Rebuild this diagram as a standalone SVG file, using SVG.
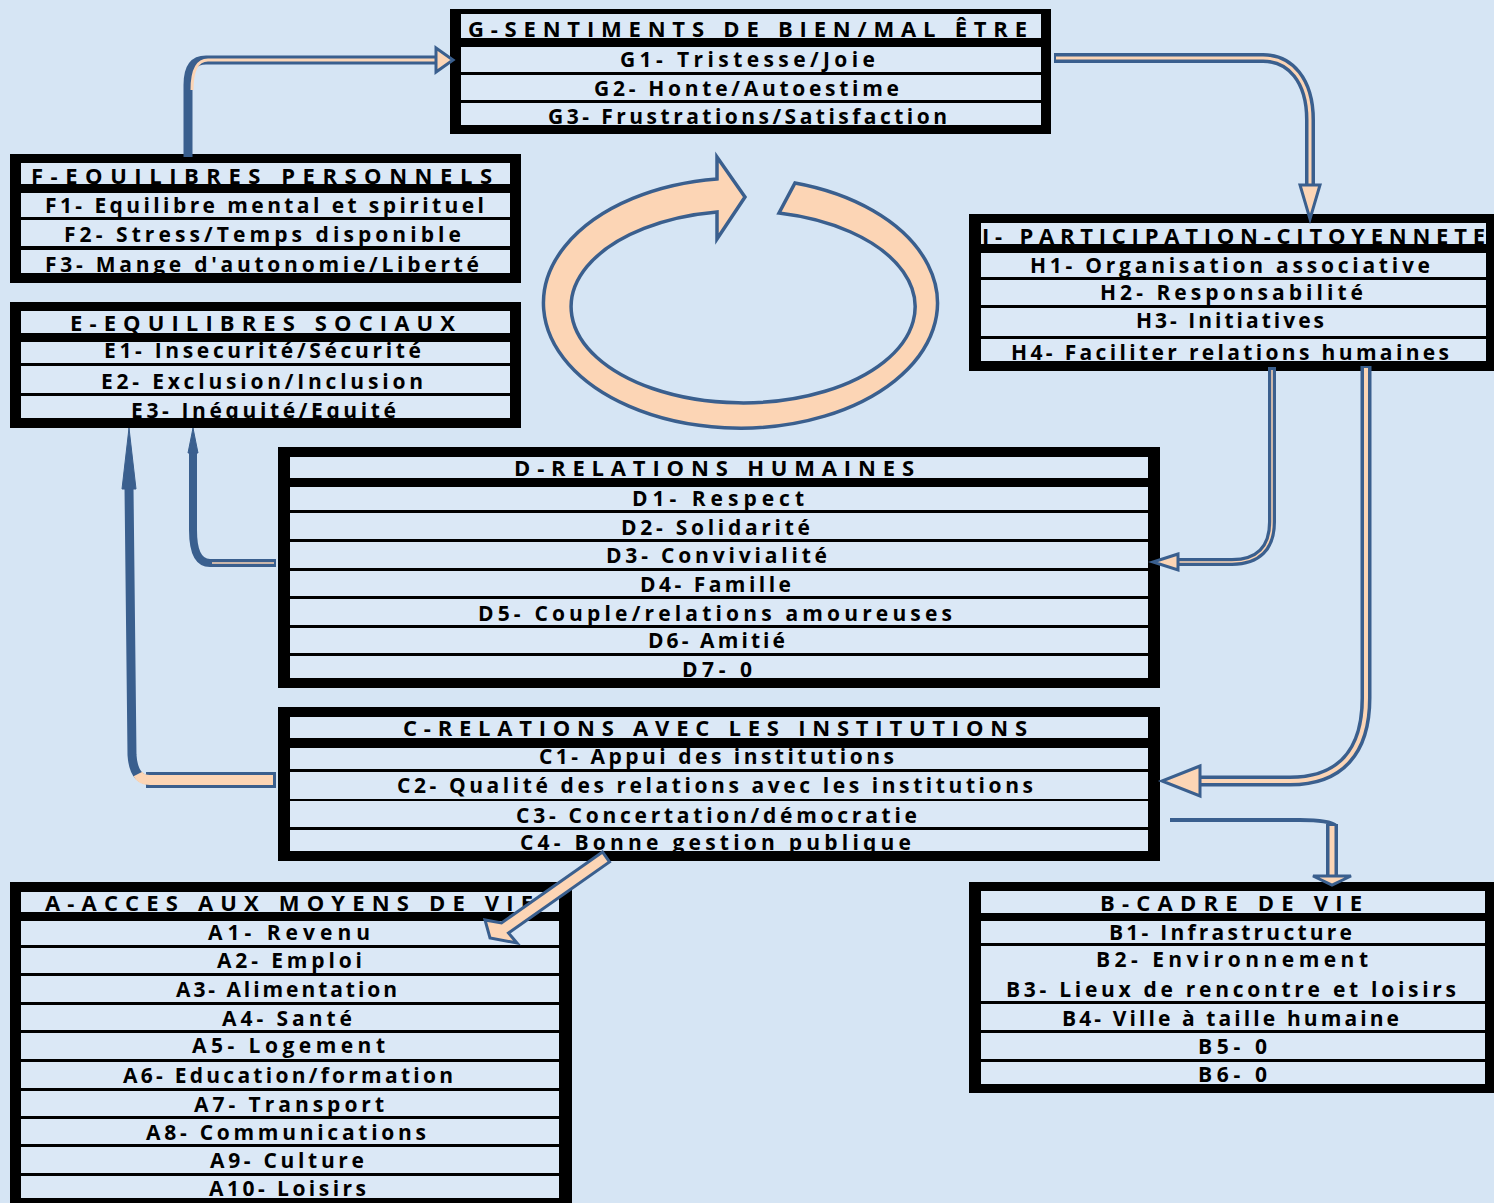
<svg xmlns="http://www.w3.org/2000/svg" width="1494" height="1203" viewBox="0 0 1494 1203">
<style>
.frame{fill:#000}
.row{fill:#dbe8f6}
.t{font-family:"Open Sans","Liberation Sans",sans-serif;font-weight:700;font-size:21px;fill:#000}
.tt{font-size:22px}
.cb{fill:none;stroke:#3a5f8e;stroke-linejoin:round}
.cp{fill:none;stroke:#fcd5b5}
.head{fill:#fcd5b5;stroke:#3a5f8e;stroke-width:3;stroke-linejoin:miter}
.bhead{fill:#3a5f8e;stroke:#3a5f8e;stroke-width:1}
</style>
<rect x="0" y="0" width="1494" height="1203" fill="#d6e5f4"/>

<g id="cycle">
<path d="M795,183 A197,125 0 1 1 717,179 L717,157 L745,197 L717,239 L717,212 A172,96 0 1 0 779,213 Z" fill="#fcd5b5" stroke="#3a5f8e" stroke-width="3.5" stroke-linejoin="miter"/>
</g>

<g id="nodeG">
<rect class="frame" x="450" y="9" width="601" height="125"/>
<rect class="row" x="461" y="14" width="580" height="24"/>
<rect class="row" x="461" y="47" width="580" height="25"/>
<rect class="row" x="461" y="75" width="580" height="25"/>
<rect class="row" x="461" y="103" width="580" height="22"/>
<text class="t tt" x="468" y="37" textLength="559" lengthAdjust="spacing">G-SENTIMENTS DE BIEN/MAL ÊTRE</text>
<text class="t" x="620" y="67" textLength="255" lengthAdjust="spacing">G1- Tristesse/Joie</text>
<text class="t" x="594" y="96" textLength="305" lengthAdjust="spacing">G2- Honte/Autoestime</text>
<text class="t" x="548" y="124" textLength="399" lengthAdjust="spacing">G3- Frustrations/Satisfaction</text>
</g>

<g id="nodeF">
<rect class="frame" x="10" y="154" width="511" height="129"/>
<rect class="row" x="21" y="163" width="489" height="21"/>
<rect class="row" x="21" y="193" width="489" height="24"/>
<rect class="row" x="21" y="220" width="489" height="26"/>
<rect class="row" x="21" y="250" width="489" height="23"/>
<text class="t tt" x="31" y="184" textLength="461" lengthAdjust="spacing">F-EQUILIBRES PERSONNELS</text>
<text class="t" x="45" y="213" textLength="439" lengthAdjust="spacing">F1- Equilibre mental et spirituel</text>
<text class="t" x="64" y="242" textLength="397" lengthAdjust="spacing">F2- Stress/Temps disponible</text>
<text class="t" x="45" y="272" textLength="434" lengthAdjust="spacing">F3- Mange d'autonomie/Liberté</text>
</g>

<g id="nodeE">
<rect class="frame" x="10" y="302" width="511" height="126"/>
<rect class="row" x="21" y="311" width="489" height="22"/>
<rect class="row" x="21" y="342" width="489" height="21"/>
<rect class="row" x="21" y="366" width="489" height="27"/>
<rect class="row" x="21" y="396" width="489" height="22"/>
<text class="t tt" x="70" y="331" textLength="385" lengthAdjust="spacing">E-EQUILIBRES SOCIAUX</text>
<text class="t" x="104" y="358" textLength="317" lengthAdjust="spacing">E1- Insecurité/Sécurité</text>
<text class="t" x="101" y="389" textLength="322" lengthAdjust="spacing">E2- Exclusion/Inclusion</text>
<text class="t" x="131" y="418" textLength="265" lengthAdjust="spacing">E3- Inéquité/Equité</text>
</g>

<g id="nodeH">
<rect class="frame" x="969" y="214" width="530" height="157"/>
<rect class="row" x="981" y="223" width="505" height="21"/>
<rect class="row" x="981" y="253" width="505" height="24"/>
<rect class="row" x="981" y="280" width="505" height="25"/>
<rect class="row" x="981" y="308" width="505" height="28"/>
<rect class="row" x="981" y="339" width="505" height="22"/>
<text class="t tt" x="982" y="244" textLength="503" lengthAdjust="spacing">I- PARTICIPATION-CITOYENNETE</text>
<text class="t" x="1030" y="273" textLength="400" lengthAdjust="spacing">H1- Organisation associative</text>
<text class="t" x="1100" y="300" textLength="263" lengthAdjust="spacing">H2- Responsabilité</text>
<text class="t" x="1136" y="328" textLength="188" lengthAdjust="spacing">H3- Initiatives</text>
<text class="t" x="1011" y="360" textLength="438" lengthAdjust="spacing">H4- Faciliter relations humaines</text>
</g>

<g id="nodeD">
<rect class="frame" x="278" y="447" width="882" height="241"/>
<rect class="row" x="290" y="457" width="858" height="21"/>
<rect class="row" x="290" y="487" width="858" height="23"/>
<rect class="row" x="290" y="513" width="858" height="26"/>
<rect class="row" x="290" y="542" width="858" height="26"/>
<rect class="row" x="290" y="571" width="858" height="25"/>
<rect class="row" x="290" y="599" width="858" height="26"/>
<rect class="row" x="290" y="628" width="858" height="25"/>
<rect class="row" x="290" y="656" width="858" height="22"/>
<text class="t tt" x="514" y="476" textLength="400" lengthAdjust="spacing">D-RELATIONS HUMAINES</text>
<text class="t" x="632" y="506" textLength="172" lengthAdjust="spacing">D1- Respect</text>
<text class="t" x="621" y="535" textLength="189" lengthAdjust="spacing">D2- Solidarité</text>
<text class="t" x="606" y="563" textLength="221" lengthAdjust="spacing">D3- Convivialité</text>
<text class="t" x="640" y="592" textLength="151" lengthAdjust="spacing">D4- Famille</text>
<text class="t" x="478" y="621" textLength="474" lengthAdjust="spacing">D5- Couple/relations amoureuses</text>
<text class="t" x="648" y="648" textLength="137" lengthAdjust="spacing">D6- Amitié</text>
<text class="t" x="682" y="677" textLength="70" lengthAdjust="spacing">D7- 0</text>
</g>

<g id="nodeC">
<rect class="frame" x="278" y="707" width="882" height="154"/>
<rect class="row" x="290" y="717" width="858" height="21"/>
<rect class="row" x="290" y="748" width="858" height="21"/>
<rect class="row" x="290" y="772" width="858" height="27"/>
<rect class="row" x="290" y="801" width="858" height="26"/>
<rect class="row" x="290" y="830" width="858" height="21"/>
<text class="t tt" x="403" y="736" textLength="624" lengthAdjust="spacing">C-RELATIONS AVEC LES INSTITUTIONS</text>
<text class="t" x="539" y="764" textLength="355" lengthAdjust="spacing">C1- Appui des institutions</text>
<text class="t" x="397" y="793" textLength="636" lengthAdjust="spacing">C2- Qualité des relations avec les institutions</text>
<text class="t" x="516" y="823" textLength="401" lengthAdjust="spacing">C3- Concertation/démocratie</text>
<text class="t" x="520" y="850" textLength="391" lengthAdjust="spacing">C4- Bonne gestion publique</text>
</g>

<g id="nodeA">
<rect class="frame" x="10" y="882" width="562" height="330"/>
<rect class="row" x="21" y="892" width="538" height="20"/>
<rect class="row" x="21" y="921" width="538" height="24"/>
<rect class="row" x="21" y="948" width="538" height="25"/>
<rect class="row" x="21" y="976" width="538" height="26"/>
<rect class="row" x="21" y="1005" width="538" height="25"/>
<rect class="row" x="21" y="1033" width="538" height="26"/>
<rect class="row" x="21" y="1062" width="538" height="26"/>
<rect class="row" x="21" y="1091" width="538" height="25"/>
<rect class="row" x="21" y="1119" width="538" height="25"/>
<rect class="row" x="21" y="1147" width="538" height="26"/>
<rect class="row" x="21" y="1176" width="538" height="22"/>
<text class="t tt" x="45" y="911" textLength="488" lengthAdjust="spacing">A-ACCES AUX MOYENS DE VIE</text>
<text class="t" x="208" y="940" textLength="162" lengthAdjust="spacing">A1- Revenu</text>
<text class="t" x="217" y="968" textLength="145" lengthAdjust="spacing">A2- Emploi</text>
<text class="t" x="176" y="997" textLength="221" lengthAdjust="spacing">A3- Alimentation</text>
<text class="t" x="222" y="1026" textLength="130" lengthAdjust="spacing">A4- Santé</text>
<text class="t" x="192" y="1053" textLength="193" lengthAdjust="spacing">A5- Logement</text>
<text class="t" x="123" y="1083" textLength="330" lengthAdjust="spacing">A6- Education/formation</text>
<text class="t" x="194" y="1112" textLength="190" lengthAdjust="spacing">A7- Transport</text>
<text class="t" x="146" y="1140" textLength="280" lengthAdjust="spacing">A8- Communications</text>
<text class="t" x="210" y="1168" textLength="154" lengthAdjust="spacing">A9- Culture</text>
<text class="t" x="209" y="1196" textLength="157" lengthAdjust="spacing">A10- Loisirs</text>
</g>

<g id="nodeB">
<rect class="frame" x="969" y="882" width="530" height="211"/>
<rect class="row" x="981" y="891" width="504" height="22"/>
<rect class="row" x="981" y="921" width="504" height="22"/>
<rect class="row" x="981" y="946" width="504" height="55"/>
<rect class="row" x="981" y="1004" width="504" height="26"/>
<rect class="row" x="981" y="1033" width="504" height="26"/>
<rect class="row" x="981" y="1062" width="504" height="22"/>
<text class="t tt" x="1100" y="911" textLength="262" lengthAdjust="spacing">B-CADRE DE VIE</text>
<text class="t" x="1109" y="940" textLength="243" lengthAdjust="spacing">B1- Infrastructure</text>
<text class="t" x="1096" y="967" textLength="272" lengthAdjust="spacing">B2- Environnement</text>
<text class="t" x="1006" y="997" textLength="450" lengthAdjust="spacing">B3- Lieux de rencontre et loisirs</text>
<text class="t" x="1062" y="1026" textLength="337" lengthAdjust="spacing">B4- Ville à taille humaine</text>
<text class="t" x="1198" y="1054" textLength="69" lengthAdjust="spacing">B5- 0</text>
<text class="t" x="1198" y="1082" textLength="69" lengthAdjust="spacing">B6- 0</text>
</g>

<g id="connectors">
<!-- F -> G -->
<path class="cb" stroke-width="9" d="M188,157 V85 C188,68 193,60 206,60 H438"/>
<path class="cp" stroke-width="3" d="M192,90 C192,72 196,60 208,60 H437"/>
<polygon class="head" points="436,48 453,60 436,72"/>
<!-- G -> H -->
<path class="cb" stroke-width="10" d="M1054,58 H1263 C1290,58 1310,80 1310,120 V187"/>
<path class="cp" stroke-width="3" d="M1056,58 H1263 C1290,58 1310,80 1310,120 V186"/>
<polygon class="head" points="1300,185 1320,185 1310,219"/>
<!-- H -> D -->
<path class="cb" stroke-width="8" d="M1272,367 V522 C1272,548 1258,562 1232,562 H1176"/>
<path class="cp" stroke-width="1.5" d="M1272,370 V522 C1272,548 1258,562 1232,562 H1177"/>
<polygon class="head" points="1178,554 1153,562 1178,570"/>
<!-- H -> C -->
<path class="cb" stroke-width="11" d="M1366,366 V698 C1366,752 1340,781 1290,781 H1198"/>
<path class="cp" stroke-width="4" d="M1366,368 V698 C1366,752 1340,781 1290,781 H1197"/>
<polygon class="head" points="1200,766 1162,781 1200,796"/>
<!-- C -> B -->
<path class="cb" stroke-width="4" d="M1170,820 H1300 Q1330,820 1336,826"/>
<path class="cb" stroke-width="12" d="M1332,824 V877"/>
<path class="cp" stroke-width="5" d="M1332,826 V877"/>
<polygon class="head" points="1313,876 1351,876 1332,885"/>
<!-- D -> E -->
<path class="cb" stroke-width="8" d="M276,563 H210 C198,563 193,550 193,530 V452"/>
<path class="cp" stroke-width="1.5" d="M274,563 H212"/>
<polygon class="bhead" points="188,453 193,428 198,453"/>
<!-- C -> E -->
<path class="cb" stroke-width="9" d="M150,780 C138,780 133,770 132,755 L129,487"/>
<path class="cb" stroke-width="16" stroke-linejoin="miter" d="M276,780 H146"/>
<path class="cp" stroke-width="10" d="M273,780 H150 C143,780 140,778 138,774"/>
<polygon class="bhead" points="122,489 129,428 136,489"/>
<!-- C -> A -->
<polygon class="head" points="602.5,852 501.5,923 485,920 490,938 517,943 508.5,933 609.5,862"/>
</g>
</svg>
